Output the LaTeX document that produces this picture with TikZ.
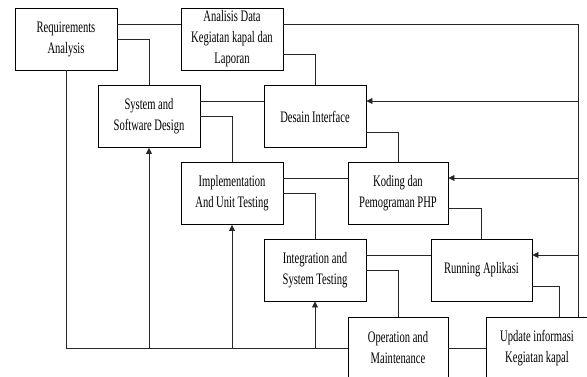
\documentclass[tikz,border=0pt]{standalone}
\usepackage{fontspec}
\setmainfont{Liberation Serif}[FakeStretch=0.66]
\usetikzlibrary{arrows.meta}

\tikzset{
  stage/.style={draw, line width=0.9pt, minimum width=102pt, minimum height=62pt,
    inner sep=1pt, align=center, font=\fontsize{16}{21}\selectfont},
  flow/.style={line width=0.8pt, black!85},
  back/.style={flow, -{Triangle[length=6pt,width=6pt]}},
}

\begin{document}
\begin{tikzpicture}[x=1pt,y=-1pt]
  \useasboundingbox (0,0) rectangle (587,376);

  % waterfall
  \node[stage] (req) at (66,39) {Requirements\\Analysis};
  \node[stage] (sys) at (149,116.5) {System and\\Software Design};
  \node[stage] (imp) at (232,193.5) {Implementation\\And Unit Testing};
  \node[stage] (int) at (315,270) {Integration and\\System Testing};
  \node[stage, minimum width=100pt] (ope) at (398,348) {Operation and\\Maintenance};

  % sistem kapal
  \node[stage] (ana) at (232,39) {Analisis Data\\Kegiatan kapal dan\\Laporan};
  \node[stage] (des) at (315,116.5) {Desain Interface};
  \node[stage, minimum width=100pt] (kod) at (398,193.5) {Koding dan\\Pemograman PHP};
  \node[stage, minimum width=101pt] (run) at (481.5,270) {Running Aplikasi};
  \node[stage] (upd) at (537,348) {Update informasi\\Kegiatan kapal};

  % steps down
  \draw[flow] ([yshift=15]req.east) -- ([yshift=15]ana.west);
  \draw[flow] (req.east) -| (sys.north);
  \draw[flow] ([yshift=-15]ana.east) -| (des.north);
  \draw[flow] ([yshift=15.5]sys.east) -- ([yshift=15.5]des.west);
  \draw[flow] (sys.east) -| (imp.north);
  \draw[flow] ([yshift=-15.5]des.east) -| (kod.north);
  \draw[flow] ([yshift=15.5]imp.east) -- ([yshift=15.5]kod.west);
  \draw[flow] (imp.east) -| (int.north);
  \draw[flow] ([yshift=-15]kod.east) -| (run.north);
  \draw[flow] ([yshift=15]int.east) -- ([yshift=15]run.west);
  \draw[flow] (int.east) -| (ope.north);
  \draw[flow] ([yshift=-16]run.east) -| ([xshift=22]upd.north);
  \draw[flow] (ope.east) -- (upd.west);

  % feedback
  \draw[flow] (req.south) |- (ope.west);
  \draw[back] (sys.south |- ope.west) -- (sys.south);
  \draw[back] (imp.south |- ope.west) -- (imp.south);
  \draw[back] (int.south |- ope.west) -- (int.south);

  \coordinate (rail) at ([xshift=41]upd.north);
  \coordinate (desin) at ([yshift=15.5]des.east);
  \coordinate (kodin) at ([yshift=15.5]kod.east);
  \coordinate (runin) at ([yshift=15]run.east);
  \draw[flow] (rail) |- ([yshift=15]ana.east);
  \draw[back] (rail |- desin) -- (desin);
  \draw[back] (rail |- kodin) -- (kodin);
  \draw[back] (rail |- runin) -- (runin);

\end{tikzpicture}
\end{document}
